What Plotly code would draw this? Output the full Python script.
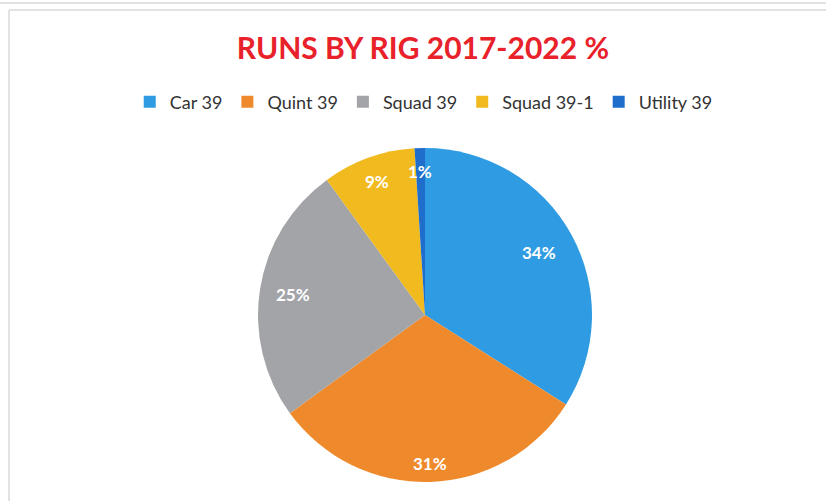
import math
import plotly.graph_objects as go

# Share of runs per apparatus, 2017-2022
rigs = ["Car 39", "Quint 39", "Squad 39", "Squad 39-1", "Utility 39"]
shares = [34, 31, 25, 9, 1]
colors = ["#2F9BE2", "#EF8A2C", "#A3A4A8", "#F1BA1E", "#1F6ECB"]

W, H = 826, 501
cx, cy, R = 425, 315, 167          # pie centre and radius in pixels
label_r = [0.78, 0.89, 0.80, 0.85, 0.86]  # radial placement of each % label

fig = go.Figure()
fig.add_trace(go.Pie(
    labels=rigs,
    values=shares,
    sort=False,
    direction="clockwise",
    rotation=0,
    marker=dict(colors=colors, line=dict(width=0)),
    textinfo="none",
    hoverinfo="label+percent",
    domain=dict(x=[(cx - R) / W, (cx + R) / W],
                y=[(H - cy - R) / H, (H - cy + R) / H]),
))

# percentage labels at the middle angle of each slice
total = sum(shares)
acc = 0
for v, f in zip(shares, label_r):
    mid = (acc + v / 2) / total * 2 * math.pi
    acc += v
    px = cx + f * R * math.sin(mid)
    py = cy - f * R * math.cos(mid)
    fig.add_annotation(
        x=px / W, y=1 - py / H, xref="paper", yref="paper",
        text=f"{round(v / total * 100)}%", showarrow=False,
        font=dict(family="Lato", size=17, color="white", weight="bold"),
        xanchor="center", yanchor="middle",
    )

# frame of the chart area
line_col = "#D9D9D9"
fig.add_shape(type="line", xref="paper", yref="paper",
              x0=0, x1=1, y0=1 - 3 / H, y1=1 - 3 / H,
              line=dict(color=line_col, width=1.5))
fig.add_shape(type="line", xref="paper", yref="paper",
              x0=9 / W, x1=1, y0=1 - 10 / H, y1=1 - 10 / H,
              line=dict(color=line_col, width=1.5))
fig.add_shape(type="line", xref="paper", yref="paper",
              x0=9 / W, x1=9 / W, y0=0, y1=1 - 10 / H,
              line=dict(color=line_col, width=1.5))

fig.update_layout(
    width=W, height=H,
    margin=dict(l=0, r=0, t=0, b=0),
    paper_bgcolor="white",
    plot_bgcolor="white",
    title=dict(text="RUNS BY RIG 2017-2022 %", x=0.512, xanchor="center",
               y=1 - 48 / H, yanchor="middle",
               font=dict(family="Lato", size=30, color="#E8212B", weight="bold")),
    legend=dict(orientation="h", x=0.513, xanchor="center",
                y=1 - 102 / H, yanchor="middle",
                font=dict(family="Lato", size=18, color="#333333"),
                itemwidth=30, traceorder="normal"),
    showlegend=True,
)

fig.write_html("out.html")
